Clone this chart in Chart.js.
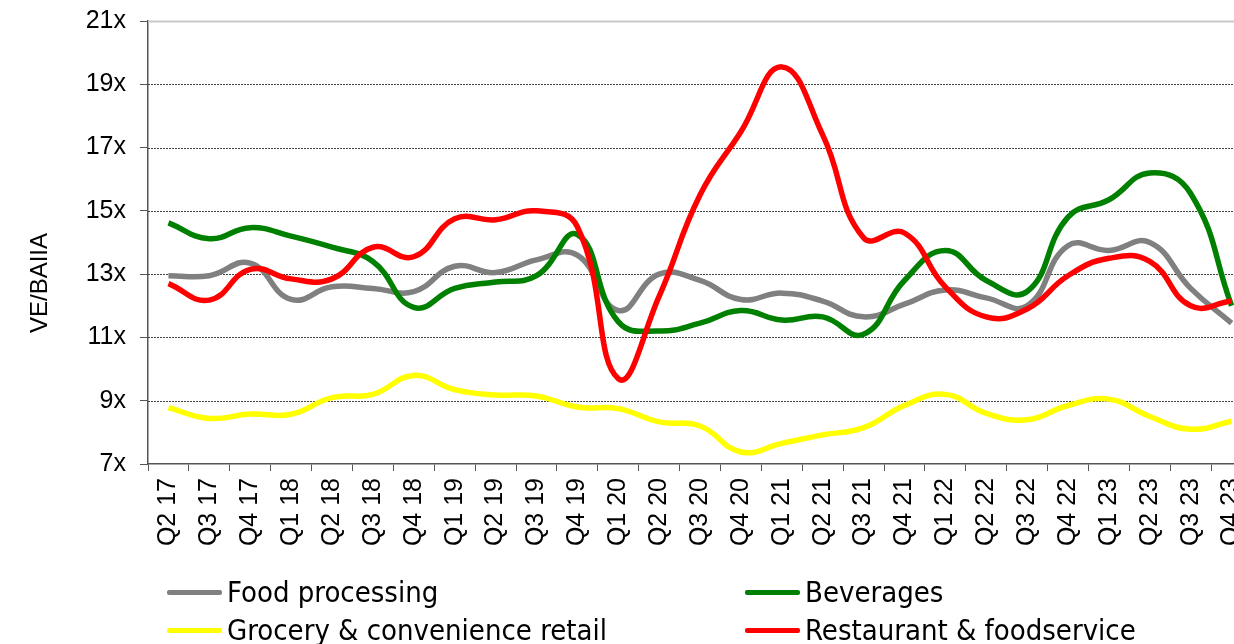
<!DOCTYPE html>
<html>
<head>
<meta charset="utf-8">
<script src="https://cdn.jsdelivr.net/npm/chart.js@4/dist/chart.umd.min.js"></script>
<style>
  html, body { margin: 0; padding: 0; background: #fff; overflow: hidden; width: 1234px; height: 644px; }
  #wrap { position: absolute; left: 0; top: 0; width: 1254px; height: 644px; }
  #legend { position: absolute; left: 0; top: 0; width: 1234px; height: 644px; pointer-events: none; }
  .lg { position: absolute; display: flex; align-items: center; white-space: nowrap;
        font-family: 'DejaVu Sans Condensed', 'DejaVu Sans', sans-serif; font-stretch: condensed;
        font-size: 29px; color: #000; line-height: 1; }
  .lg .sw { width: 55px; height: 5px; border-radius: 2px; margin-right: 5px; }
</style>
</head>
<body>
<div id="wrap"><canvas id="c" width="1254" height="644"></canvas></div>
<div id="legend"></div>
<script>
const categories = ["Q2 17","Q3 17","Q4 17","Q1 18","Q2 18","Q3 18","Q4 18","Q1 19","Q2 19","Q3 19","Q4 19",
  "Q1 20","Q2 20","Q3 20","Q4 20","Q1 21","Q2 21","Q3 21","Q4 21","Q1 22","Q2 22","Q3 22","Q4 22",
  "Q1 23","Q2 23","Q3 23","Q4 23"];

const foodProcessing = [12.95,12.95,13.35,12.2,12.6,12.55,12.45,13.25,13.05,13.45,13.6,
  11.85,13.0,12.8,12.2,12.4,12.15,11.65,12.05,12.5,12.25,12.0,13.9,13.75,14.0,12.55,11.45];
const beverages = [14.62,14.12,14.47,14.2,13.85,13.4,11.95,12.55,12.75,12.95,14.25,
  11.5,11.2,11.45,11.85,11.55,11.65,11.1,12.8,13.75,12.8,12.45,14.8,15.35,16.2,15.55,12.0];
const groceryRetail = [8.78,8.44,8.58,8.57,9.1,9.2,9.8,9.35,9.18,9.15,8.8,
  8.75,8.33,8.2,7.38,7.65,7.92,8.15,8.85,9.2,8.6,8.4,8.85,9.05,8.5,8.1,8.35];
const restaurantFoodservice = [12.7,12.18,13.15,12.85,12.85,13.85,13.55,14.75,14.72,15.0,14.5,
  9.7,12.3,15.5,17.5,19.55,17.4,14.15,14.3,12.6,11.65,11.9,12.95,13.5,13.4,12.0,12.15];

const seriesNames = ["Food processing","Beverages","Grocery & convenience retail","Restaurant & foodservice"];
const seriesColors = ["#808080","#008000","#FFFF00","#FF0000"];
const seriesData = [foodProcessing, beverages, groceryRetail, restaurantFoodservice];
const yTicks = [7,9,11,13,15,17,19,21];
const yTitle = "VE/BAIIA";

const AXIS_FONT = "Arial, 'Liberation Sans', Helvetica, sans-serif";

const gridPlugin = {
  id: 'dottedGrid',
  beforeDatasetsDraw(chart) {
    const {ctx, chartArea, scales: {y}} = chart;
    ctx.save();
    yTicks.forEach(v => {
      if (v === 7) return;
      const py = Math.round(y.getPixelForValue(v)) + 0.5;
      ctx.beginPath();
      if (v === 21) {
        ctx.setLineDash([]);
        ctx.strokeStyle = '#c8c8c8';
        ctx.lineWidth = 2;
      } else {
        ctx.setLineDash([2, 1]);
        ctx.strokeStyle = '#444';
        ctx.lineWidth = 1;
      }
      ctx.moveTo(chartArea.left, py);
      ctx.lineTo(chartArea.right, py);
      ctx.stroke();
    });
    ctx.restore();
  },
  afterDraw(chart) {
    const {ctx} = chart;
    ctx.save();
    ctx.translate(40, 283);
    ctx.rotate(-Math.PI / 2);
    ctx.font = "24px " + AXIS_FONT;
    ctx.fillStyle = '#000';
    ctx.textAlign = 'center';
    ctx.textBaseline = 'middle';
    ctx.fillText(yTitle, 0, 0);
    ctx.restore();
  }
};

const datasets = seriesNames.map((name, i) => ({
  label: name,
  data: seriesData[i],
  borderColor: seriesColors[i],
  backgroundColor: seriesColors[i],
  borderWidth: 5.5,
  pointRadius: 0,
  tension: 0.45,
  fill: false,
  order: 4 - i
}));

new Chart(document.getElementById('c'), {
  type: 'line',
  data: { labels: categories, datasets },
  options: {
    responsive: false,
    animation: false,
    devicePixelRatio: 1,
    layout: { padding: { top: 21, right: 2, left: 0, bottom: 0 } },
    plugins: { legend: { display: false }, tooltip: { enabled: false } },
    scales: {
      x: {
        type: 'category',
        offset: true,
        grid: { display: true, drawOnChartArea: false, drawTicks: true, tickLength: 7, color: '#555', offset: true },
        border: { display: true, color: '#555', width: 1.5 },
        ticks: { autoSkip: false, minRotation: 90, maxRotation: 90, color: '#000', padding: 7,
                 font: { family: AXIS_FONT, size: 25 } },
        afterFit(scale) { scale.height = 180; scale.paddingLeft = 0; scale.paddingRight = 0; }
      },
      y: {
        min: 7, max: 21,
        afterBuildTicks(scale) { scale.ticks = yTicks.map(v => ({ value: v })); },
        grid: { display: true, drawOnChartArea: false, drawTicks: true, tickLength: 8, color: '#555' },
        border: { display: true, color: '#555', width: 1.5 },
        ticks: { color: '#000', padding: 14, font: { family: AXIS_FONT, size: 25 },
                 callback: v => v + 'x' },
        afterFit(scale) { scale.width = 148; scale.paddingTop = 0; scale.paddingBottom = 0; }
      }
    }
  },
  plugins: [gridPlugin]
});

// HTML legend built from series arrays
const legendPos = [[167, 592], [745, 592], [167, 630], [745, 630]];
const lg = document.getElementById('legend');
seriesNames.forEach((name, i) => {
  const d = document.createElement('div');
  d.className = 'lg';
  d.style.left = legendPos[i][0] + 'px';
  d.style.top = (legendPos[i][1] - 16) + 'px';
  d.style.height = '32px';
  const sw = document.createElement('div');
  sw.className = 'sw';
  sw.style.background = seriesColors[i];
  const t = document.createElement('span');
  t.textContent = name;
  d.appendChild(sw); d.appendChild(t);
  lg.appendChild(d);
});
</script>
</body>
</html>
